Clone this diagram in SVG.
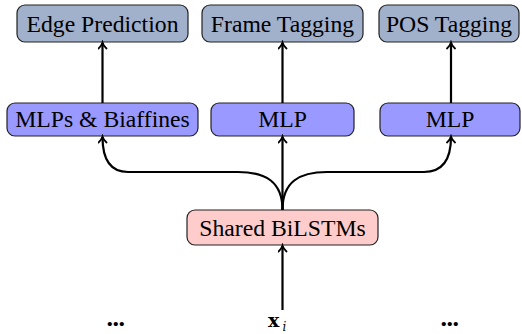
<svg xmlns="http://www.w3.org/2000/svg" width="522" height="334" viewBox="0 0 522 334">
<defs>
<style>
.t{font-family:"Liberation Serif","Times New Roman",serif;font-size:23.7px;text-anchor:middle;fill:#000}
.top{fill:#a1b0cb;stroke:#222;stroke-width:1.2}
.mid{fill:#9999ff;stroke:#222;stroke-width:1.2}
.sh{fill:#ffcccc;stroke:#222;stroke-width:1.2}
.c{fill:none;stroke:#000;stroke-width:2.2;marker-end:url(#ah)}
.dots{font-family:"Liberation Serif",serif;font-size:26px;font-weight:bold;text-anchor:middle;letter-spacing:-0.5px}
</style>
<marker id="ah" markerWidth="10" markerHeight="10" refX="7" refY="5" orient="auto" markerUnits="userSpaceOnUse">
<path d="M1.5,1 Q4,4 7.5,5 Q4,6 1.5,9" fill="none" stroke="#000" stroke-width="1.8" stroke-linecap="round"/>
</marker>
</defs>
<g id="edge-prediction"><rect class="top" x="17" y="5" width="171" height="37" rx="8"/><text class="t" x="102.5" y="31.5">Edge Prediction</text></g>
<g id="frame-tagging"><rect class="top" x="202" y="5" width="161" height="37" rx="8"/><text class="t" x="282.5" y="31.5">Frame Tagging</text></g>
<g id="pos-tagging"><rect class="top" x="379" y="5" width="140" height="37" rx="8"/><text class="t" x="449" y="31.5">POS Tagging</text></g>
<g id="mlps-biaffines"><rect class="mid" x="7" y="103" width="191" height="33" rx="8"/><text class="t" x="102.5" y="127">MLPs &amp; Biaffines</text></g>
<g id="mlp-mid"><rect class="mid" x="211" y="103" width="143" height="33" rx="8"/><text class="t" x="282.5" y="127">MLP</text></g>
<g id="mlp-right"><rect class="mid" x="380" y="103" width="140" height="33" rx="8"/><text class="t" x="450" y="127">MLP</text></g>
<g id="shared-bilstms"><rect class="sh" x="187" y="210" width="191" height="35" rx="8"/><text class="t" x="282.5" y="235.5">Shared BiLSTMs</text></g>
<g id="input">
<text x="268" y="327" style="font-family:'DejaVu Serif',serif;font-size:19px;font-weight:bold">x</text>
<text x="282.5" y="331" style="font-family:'DejaVu Serif',serif;font-size:12px;font-style:italic">i</text>
</g>
<g id="dots-left"><text x="115.5" y="326" class="dots">...</text></g>
<g id="dots-right"><text x="449.5" y="326" class="dots">...</text></g>
<g id="connectors">
<path class="c" d="M102.5,103 L102.5,43"/>
<path class="c" d="M282.5,103 L282.5,43"/>
<path class="c" d="M451,103 L451,43"/>
<path class="c" d="M282.5,210 L282.5,137"/>
<path class="c" d="M282.5,210 C282.5,182 266,172 238,172 L128,172 C112,172 102.5,162 102.5,137"/>
<path class="c" d="M282.5,210 C282.5,182 299,172 327,172 L424,172 C441,172 451,162 451,137"/>
<path class="c" d="M282.5,310 L282.5,246"/>
</g>
</svg>
